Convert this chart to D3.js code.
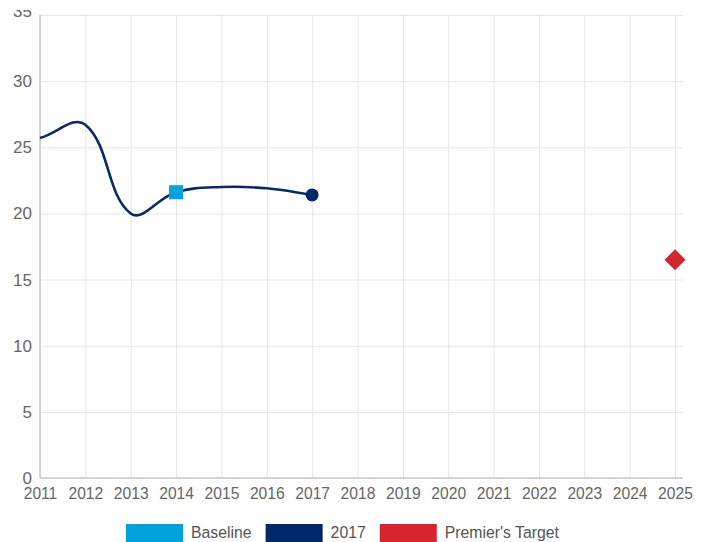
<!DOCTYPE html>
<html>
<head>
<meta charset="utf-8">
<script src="https://cdn.jsdelivr.net/npm/d3@7"></script>
<style>
  body { margin: 0; background: #fff; }
  svg { display: block; font-family: "Liberation Sans", Arial, sans-serif; }
</style>
</head>
<body>
<svg id="chart"></svg>
<script>
var years = [2011, 2012, 2013, 2014, 2015, 2016, 2017, 2018, 2019, 2020, 2021, 2022, 2023, 2024, 2025];
var yTicks = [0, 5, 10, 15, 20, 25, 30, 35];

// 2017 series (line)
var lineYears = [2011, 2012, 2013, 2014, 2015, 2016, 2017];
var lineValues = [25.7, 26.7, 20.0, 21.6, 22.0, 21.9, 21.4];

var baselineYear = [2014];
var baselineValue = [21.6];
var targetYear = [2025];
var targetValue = [16.5];

var legendLabels = ["Baseline", "2017", "Premier's Target"];
var legendColors = ["#00a3dc", "#002868", "#d5262f"];

var width = 706, height = 542;
var plotLeft = 40, plotRight = 675, gridRight = 683, plotTop = 15, plotBottom = 478;

var svg = d3.select("#chart")
  .attr("width", width)
  .attr("height", height);

var x = d3.scaleLinear().domain([2011, 2025]).range([plotLeft, plotRight]);
var y = d3.scaleLinear().domain([0, 35]).range([plotBottom, plotTop]);

// the top label is cut by the picture edge in the original
svg.append("clipPath").attr("id", "topclip")
  .append("rect").attr("x", -60).attr("y", 10).attr("width", width + 60).attr("height", height);

// y axis + horizontal grid
var yAxis = svg.append("g")
  .attr("transform", "translate(" + plotLeft + ",0)")
  .attr("clip-path", "url(#topclip)")
  .call(d3.axisLeft(y).tickValues(yTicks).tickSize(-(gridRight - plotLeft)).tickPadding(8));
yAxis.select(".domain").remove();
yAxis.selectAll("line").attr("stroke", "#e6e6e6");
yAxis.selectAll("text")
  .attr("fill", "#666")
  .style("font-size", "17px")
  .style("font-family", "Liberation Sans, Arial, sans-serif")
  .attr("y", function (d) { return d === 35 ? -4 : 0; });

// x axis + vertical grid
var xAxis = svg.append("g")
  .attr("transform", "translate(0," + plotBottom + ")")
  .call(d3.axisBottom(x).tickValues(years).tickFormat(d3.format("d")).tickSize(-(plotBottom - plotTop)).tickPadding(9));
xAxis.select(".domain").remove();
xAxis.selectAll("line").attr("stroke", "#e6e6e6");
xAxis.selectAll("text")
  .attr("fill", "#666")
  .style("font-size", "17px")
  .style("font-family", "Liberation Sans, Arial, sans-serif")
  .attr("transform", "scale(0.92,1)");

// axis lines
svg.append("line")
  .attr("x1", plotLeft).attr("x2", plotLeft).attr("y1", plotTop).attr("y2", plotBottom)
  .attr("stroke", "#c8c8c8").attr("stroke-width", 1.5);
svg.append("line")
  .attr("x1", plotLeft).attr("x2", gridRight).attr("y1", plotBottom).attr("y2", plotBottom)
  .attr("stroke", "#c8c8c8").attr("stroke-width", 1.5);

// Chart.js style bezier (tension 0.4)
function splinePath(pts, t) {
  var p = d3.path();
  var ctrl = pts.map(function (cur, i) {
    var prev = pts[i - 1] || cur, next = pts[i + 1] || cur;
    var d01 = Math.hypot(cur[0] - prev[0], cur[1] - prev[1]);
    var d12 = Math.hypot(next[0] - cur[0], next[1] - cur[1]);
    var s01 = d01 / (d01 + d12) || 0, s12 = d12 / (d01 + d12) || 0;
    var fa = t * s01, fb = t * s12;
    return {
      prev: [cur[0] - fa * (next[0] - prev[0]), cur[1] - fa * (next[1] - prev[1])],
      next: [cur[0] + fb * (next[0] - prev[0]), cur[1] + fb * (next[1] - prev[1])]
    };
  });
  p.moveTo(pts[0][0], pts[0][1]);
  for (var i = 1; i < pts.length; i++) {
    p.bezierCurveTo(ctrl[i - 1].next[0], ctrl[i - 1].next[1], ctrl[i].prev[0], ctrl[i].prev[1], pts[i][0], pts[i][1]);
  }
  return p.toString();
}

var linePts = lineYears.map(function (yr, i) { return [x(yr), y(lineValues[i])]; });
svg.append("path")
  .attr("d", splinePath(linePts, 0.4))
  .attr("fill", "none")
  .attr("stroke", "#0a2a66")
  .attr("stroke-width", 2.6);

// 2017 point
svg.append("circle")
  .attr("cx", x(lineYears[lineYears.length - 1]))
  .attr("cy", y(lineValues[lineValues.length - 1]))
  .attr("r", 6.5)
  .attr("fill", legendColors[1]);

// Baseline square
svg.selectAll(".base").data(baselineYear).enter().append("rect")
  .attr("x", function (d) { return x(d) - 7; })
  .attr("y", function (d, i) { return y(baselineValue[i]) - 7; })
  .attr("width", 14).attr("height", 14)
  .attr("fill", legendColors[0]);

// Target diamond
svg.selectAll(".target").data(targetYear).enter().append("path")
  .attr("d", function (d, i) {
    var cx = x(d), cy = y(targetValue[i]), r = 10.5;
    return "M" + cx + "," + (cy - r) + "L" + (cx + r) + "," + cy + "L" + cx + "," + (cy + r) + "L" + (cx - r) + "," + cy + "Z";
  })
  .attr("fill", legendColors[2]);

// legend
var legend = svg.append("g");
var lx = 126, sx = 0.93;
legendLabels.forEach(function (lab, i) {
  legend.append("rect")
    .attr("x", lx).attr("y", 524).attr("width", 57).attr("height", 20)
    .attr("fill", legendColors[i]);
  var t = legend.append("text")
    .attr("x", (lx + 65) / sx).attr("y", 538)
    .attr("transform", "scale(" + sx + ",1)")
    .attr("fill", "#555")
    .style("font-size", "17px")
    .text(lab);
  lx = lx + 65 + t.node().getComputedTextLength() * sx + 14;
});
</script>
</body>
</html>
